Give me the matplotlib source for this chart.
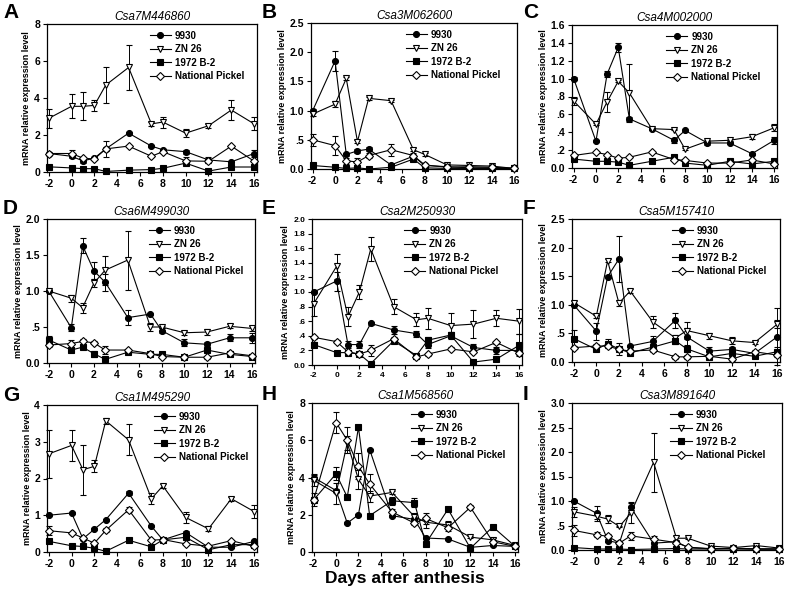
import matplotlib
matplotlib.use("Agg")
import matplotlib.pyplot as plt

plt.rcParams['font.family'] = ['Liberation Sans', 'DejaVu Sans']

days = [-2, 0, 1, 2, 3, 5, 7, 8, 10, 12, 14, 16]
series_names = ["9930", "ZN 26", "1972 B-2", "National Pickel"]
panel_letters = ["A", "B", "C", "D", "E", "F", "G", "H", "I"]
gene_names = ["Csa7M446860", "Csa3M062600", "Csa4M002000",
              "Csa6M499030", "Csa2M250930", "Csa5M157410",
              "Csa1M495290", "Csa1M568560", "Csa3M891640"]

# ---- Panel A ----
a_9930 = [1.0, 0.85, 0.6, 0.75, 1.25, 2.1, 1.4, 1.2, 1.1, 0.65, 0.55, 1.0]
a_zn26 = [2.9, 3.55, 3.55, 3.6, 4.7, 5.65, 2.6, 2.7, 2.1, 2.5, 3.35, 2.6]
a_1972 = [0.28, 0.22, 0.18, 0.18, 0.03, 0.1, 0.13, 0.2, 0.48, 0.05, 0.27, 0.27]
a_np = [1.0, 1.0, 0.75, 0.7, 1.25, 1.4, 0.85, 1.1, 0.6, 0.58, 1.4, 0.58]
a_9930_err = [0.1, 0.1, 0.1, 0.05, 0.1, 0.05, 0.05, 0.05, 0.1, 0.15, 0.05, 0.2]
a_zn26_err = [0.5, 0.65, 0.75, 0.3, 0.95, 1.2, 0.1, 0.3, 0.2, 0.1, 0.55, 0.35]
a_1972_err = [0.03] * 12
a_np_err = [0.05, 0.2, 0.05, 0.05, 0.45, 0.05, 0.05, 0.05, 0.2, 0.1, 0.05, 0.05]

# ---- Panel B ----
b_9930 = [1.0, 1.85, 0.25, 0.31, 0.34, 0.07, 0.22, 0.06, 0.04, 0.02, 0.02, 0.01]
b_zn26 = [0.94, 1.11, 1.55, 0.47, 1.21, 1.17, 0.33, 0.25, 0.07, 0.06, 0.05, 0.01]
b_1972 = [0.06, 0.03, 0.01, 0.02, 0.0, 0.03, 0.17, 0.02, 0.01, 0.01, 0.01, 0.01]
b_np = [0.5, 0.4, 0.14, 0.12, 0.23, 0.33, 0.23, 0.07, 0.03, 0.04, 0.03, 0.01]
b_9930_err = [0.03, 0.17, 0.03, 0.03, 0.03, 0.02, 0.02, 0.01, 0.01, 0.01, 0.01, 0.01]
b_zn26_err = [0.03, 0.05, 0.02, 0.03, 0.02, 0.02, 0.03, 0.02, 0.01, 0.01, 0.01, 0.01]
b_1972_err = [0.01] * 12
b_np_err = [0.1, 0.16, 0.05, 0.06, 0.05, 0.1, 0.05, 0.02, 0.01, 0.01, 0.01, 0.01]

# ---- Panel C ----
c_9930 = [1.0, 0.3, 1.05, 1.35, 0.55, 0.44, 0.31, 0.42, 0.28, 0.28, 0.16, 0.31]
c_zn26 = [0.75, 0.49, 0.74, 0.97, 0.84, 0.44, 0.43, 0.21, 0.3, 0.31, 0.35, 0.45]
c_1972 = [0.1, 0.075, 0.075, 0.065, 0.03, 0.075, 0.12, 0.055, 0.03, 0.075, 0.045, 0.075]
c_np = [0.14, 0.175, 0.15, 0.11, 0.12, 0.18, 0.095, 0.085, 0.055, 0.055, 0.09, 0.045]
c_9930_err = [0.02, 0.01, 0.03, 0.05, 0.02, 0.01, 0.03, 0.01, 0.02, 0.01, 0.01, 0.04]
c_zn26_err = [0.05, 0.01, 0.11, 0.01, 0.32, 0.01, 0.01, 0.01, 0.01, 0.01, 0.03, 0.04]
c_1972_err = [0.01] * 12
c_np_err = [0.01] * 12

# ---- Panel D ----
d_9930 = [1.0, 0.49, 1.63, 1.28, 1.12, 0.63, 0.68, 0.45, 0.28, 0.26, 0.35, 0.35]
d_zn26 = [1.0, 0.9, 0.77, 1.11, 1.29, 1.43, 0.5, 0.5, 0.42, 0.43, 0.51, 0.48]
d_1972 = [0.32, 0.18, 0.22, 0.13, 0.05, 0.15, 0.12, 0.12, 0.08, 0.18, 0.12, 0.09]
d_np = [0.25, 0.27, 0.3, 0.28, 0.18, 0.18, 0.13, 0.09, 0.08, 0.08, 0.14, 0.1]
d_9930_err = [0.02, 0.05, 0.1, 0.12, 0.12, 0.1, 0.02, 0.03, 0.05, 0.03, 0.05, 0.07]
d_zn26_err = [0.02, 0.05, 0.07, 0.05, 0.2, 0.41, 0.05, 0.02, 0.03, 0.04, 0.03, 0.03]
d_1972_err = [0.05, 0.03, 0.02, 0.04, 0.02, 0.02, 0.02, 0.02, 0.02, 0.02, 0.02, 0.02]
d_np_err = [0.03, 0.05, 0.04, 0.02, 0.05, 0.02, 0.02, 0.02, 0.02, 0.02, 0.02, 0.02]

# ---- Panel E ----
e_9930 = [1.0, 1.15, 0.28, 0.28, 0.57, 0.48, 0.43, 0.28, 0.4, 0.24, 0.2, 0.2]
e_zn26 = [0.84, 1.35, 0.66, 1.0, 1.59, 0.8, 0.62, 0.64, 0.54, 0.56, 0.64, 0.6]
e_1972 = [0.28, 0.17, 0.17, 0.15, 0.02, 0.33, 0.13, 0.34, 0.41, 0.04, 0.08, 0.27]
e_np = [0.38, 0.32, 0.18, 0.15, 0.2, 0.36, 0.11, 0.15, 0.22, 0.18, 0.31, 0.16]
e_9930_err = [0.02, 0.13, 0.05, 0.05, 0.02, 0.06, 0.04, 0.05, 0.05, 0.05, 0.05, 0.05]
e_zn26_err = [0.17, 0.17, 0.13, 0.1, 0.16, 0.1, 0.09, 0.14, 0.17, 0.19, 0.11, 0.17]
e_1972_err = [0.03, 0.02, 0.02, 0.02, 0.02, 0.03, 0.02, 0.04, 0.04, 0.03, 0.03, 0.15]
e_np_err = [0.02, 0.02, 0.02, 0.02, 0.07, 0.02, 0.03, 0.02, 0.02, 0.02, 0.02, 0.02]

# ---- Panel F ----
f_9930 = [1.0, 0.54, 1.49, 1.8, 0.28, 0.36, 0.73, 0.44, 0.19, 0.22, 0.15, 0.44]
f_zn26 = [1.04, 0.8, 1.77, 1.03, 1.24, 0.7, 0.42, 0.55, 0.46, 0.37, 0.34, 0.66]
f_1972 = [0.41, 0.22, 0.32, 0.23, 0.16, 0.26, 0.37, 0.23, 0.09, 0.15, 0.1, 0.18]
f_np = [0.25, 0.28, 0.28, 0.22, 0.19, 0.21, 0.09, 0.09, 0.1, 0.05, 0.18, 0.12]
f_9930_err = [0.02, 0.15, 0.03, 0.41, 0.02, 0.1, 0.13, 0.15, 0.08, 0.05, 0.03, 0.5]
f_zn26_err = [0.03, 0.03, 0.03, 0.05, 0.03, 0.1, 0.05, 0.15, 0.05, 0.06, 0.02, 0.07]
f_1972_err = [0.15, 0.03, 0.08, 0.1, 0.03, 0.05, 0.05, 0.05, 0.03, 0.03, 0.03, 0.08]
f_np_err = [0.03] * 12

# ---- Panel G ----
g_9930 = [1.0, 1.06, 0.36, 0.62, 0.88, 1.6, 0.7, 0.33, 0.53, 0.13, 0.13, 0.29]
g_zn26 = [2.67, 2.9, 2.24, 2.33, 3.57, 3.05, 1.45, 1.8, 0.94, 0.63, 1.45, 1.1]
g_1972 = [0.29, 0.17, 0.15, 0.1, 0.02, 0.32, 0.14, 0.33, 0.4, 0.06, 0.2, 0.2]
g_np = [0.58, 0.52, 0.38, 0.24, 0.59, 1.15, 0.32, 0.34, 0.22, 0.16, 0.31, 0.15]
g_9930_err = [0.03, 0.03, 0.02, 0.03, 0.03, 0.05, 0.03, 0.03, 0.04, 0.03, 0.03, 0.03]
g_zn26_err = [0.65, 0.42, 0.68, 0.16, 0.08, 0.42, 0.15, 0.05, 0.15, 0.07, 0.06, 0.17]
g_1972_err = [0.03] * 12
g_np_err = [0.12, 0.03, 0.03, 0.03, 0.05, 0.07, 0.03, 0.03, 0.03, 0.03, 0.03, 0.03]

# ---- Panel H ----
h_9930 = [4.0, 3.3, 1.55, 2.0, 5.5, 1.95, 1.75, 0.75, 0.7, 0.25, 0.35, 0.3]
h_zn26 = [3.85, 3.15, 5.85, 3.9, 3.0, 3.2, 1.9, 1.6, 1.45, 0.8, 0.65, 0.35]
h_1972 = [2.8, 4.2, 2.95, 6.7, 1.95, 2.75, 2.65, 0.45, 2.3, 0.2, 1.35, 0.3]
h_np = [2.8, 6.95, 6.0, 4.6, 3.65, 2.15, 1.55, 1.8, 1.3, 2.4, 0.55, 0.3]
h_9930_err = [0.2, 0.1, 0.05, 0.05, 0.05, 0.05, 0.05, 0.05, 0.05, 0.05, 0.05, 0.05]
h_zn26_err = [0.3, 0.55, 0.4, 0.5, 0.3, 0.1, 0.2, 0.3, 0.2, 0.05, 0.1, 0.05]
h_1972_err = [0.05, 0.35, 0.05, 0.1, 0.05, 0.2, 0.25, 0.05, 0.05, 0.05, 0.05, 0.05]
h_np_err = [0.35, 0.55, 0.7, 0.7, 0.55, 0.15, 0.1, 0.3, 0.15, 0.1, 0.1, 0.05]

# ---- Panel I ----
i_9930 = [1.0, 0.75, 0.19, 0.14, 0.87, 0.14, 0.17, 0.05, 0.03, 0.03, 0.02, 0.02]
i_zn26 = [0.78, 0.69, 0.63, 0.48, 0.75, 1.79, 0.24, 0.24, 0.08, 0.05, 0.09, 0.04]
i_1972 = [0.05, 0.02, 0.02, 0.02, 0.01, 0.02, 0.03, 0.02, 0.02, 0.02, 0.02, 0.02]
i_np = [0.4, 0.31, 0.28, 0.14, 0.29, 0.22, 0.15, 0.06, 0.02, 0.04, 0.02, 0.02]
i_9930_err = [0.02, 0.15, 0.03, 0.02, 0.1, 0.03, 0.03, 0.01, 0.01, 0.01, 0.01, 0.01]
i_zn26_err = [0.1, 0.05, 0.08, 0.02, 0.2, 0.6, 0.05, 0.02, 0.02, 0.01, 0.02, 0.01]
i_1972_err = [0.01] * 12
i_np_err = [0.12, 0.05, 0.05, 0.02, 0.08, 0.07, 0.02, 0.01, 0.01, 0.01, 0.01, 0.01]

# y-axis tick values per panel
a_yticks = [0, 2, 4, 6, 8]
b_yticks = [0.0, 0.5, 1.0, 1.5, 2.0, 2.5]
c_yticks = [0.0, 0.2, 0.4, 0.6, 0.8, 1.0, 1.2, 1.4, 1.6]
d_yticks = [0.0, 0.5, 1.0, 1.5, 2.0]
e_yticks = [0.0, 0.2, 0.4, 0.6, 0.8, 1.0, 1.2, 1.4, 1.6, 1.8, 2.0]
f_yticks = [0.0, 0.5, 1.0, 1.5, 2.0, 2.5]
g_yticks = [0, 1, 2, 3, 4]
h_yticks = [0, 2, 4, 6, 8]
i_yticks = [0.0, 0.5, 1.0, 1.5, 2.0, 2.5, 3.0]
x_ticks = [-2, 0, 2, 4, 6, 8, 10, 12, 14, 16]

panels = [
    (a_9930, a_zn26, a_1972, a_np, a_9930_err, a_zn26_err, a_1972_err, a_np_err, a_yticks, True),
    (b_9930, b_zn26, b_1972, b_np, b_9930_err, b_zn26_err, b_1972_err, b_np_err, b_yticks, False),
    (c_9930, c_zn26, c_1972, c_np, c_9930_err, c_zn26_err, c_1972_err, c_np_err, c_yticks, False),
    (d_9930, d_zn26, d_1972, d_np, d_9930_err, d_zn26_err, d_1972_err, d_np_err, d_yticks, False),
    (e_9930, e_zn26, e_1972, e_np, e_9930_err, e_zn26_err, e_1972_err, e_np_err, e_yticks, False),
    (f_9930, f_zn26, f_1972, f_np, f_9930_err, f_zn26_err, f_1972_err, f_np_err, f_yticks, False),
    (g_9930, g_zn26, g_1972, g_np, g_9930_err, g_zn26_err, g_1972_err, g_np_err, g_yticks, True),
    (h_9930, h_zn26, h_1972, h_np, h_9930_err, h_zn26_err, h_1972_err, h_np_err, h_yticks, True),
    (i_9930, i_zn26, i_1972, i_np, i_9930_err, i_zn26_err, i_1972_err, i_np_err, i_yticks, False),
]

# layout (pixels): left, top, right, bottom
boxes = [(47, 24, 257, 172), (311, 23, 517, 169), (572, 25, 777, 168),
         (47, 219, 255, 363), (312, 219, 522, 365), (572, 219, 780, 362),
         (47, 405, 257, 552), (312, 403, 518, 552), (572, 403, 782, 550)]
legend_x = [0.47, 0.44, 0.44, 0.47, 0.42, 0.46, 0.49, 0.46, 0.45]
letter_pos = [(3, 3), (262, 3), (523, 3), (3, 199), (262, 199), (523, 199),
              (3, 386), (262, 385), (523, 385)]

W, H = 786, 592
fig = plt.figure(figsize=(W / 100, H / 100), dpi=100)
fig.patch.set_facecolor("white")

styles = [
    dict(marker='o', markersize=4.3, markerfacecolor='black'),
    dict(marker='v', markersize=4.8, markerfacecolor='white'),
    dict(marker='s', markersize=4.0, markerfacecolor='black'),
    dict(marker='D', markersize=3.6, markerfacecolor='white'),
]


def fmt(v, integer):
    if integer:
        return "%d" % v
    if v == 0:
        return "0.0"
    if v < 1:
        return ("%.1f" % v)[1:]
    return "%.1f" % v


for k, (p, box) in enumerate(zip(panels, boxes)):
    l, t, r, b = box
    ax = fig.add_axes([l / W, 1 - b / H, (r - l) / W, (b - t) / H])
    vals = p[0:4]
    errs = p[4:8]
    yt = p[8]
    integer = p[9]
    for name, v, e, st in zip(series_names, vals, errs, styles):
        ax.errorbar(days, v, yerr=e, color='black', linewidth=0.8,
                    markeredgecolor='black', markeredgewidth=0.8,
                    elinewidth=0.7, capsize=2.5, capthick=0.7,
                    label=name, clip_on=False, zorder=3, **st)
    ax.set_xlim(-2.15, 16.25)
    ax.set_ylim(yt[0], yt[-1])
    ax.set_xticks(x_ticks)
    ax.set_yticks(yt)
    fs = 6 if k == 4 else 7.5
    ax.set_xticklabels([str(x) for x in x_ticks], fontsize=fs, fontweight='bold')
    ax.set_yticklabels([fmt(v, integer) for v in yt], fontsize=fs, fontweight='bold')
    ax.tick_params(direction='out', length=3, width=0.8, pad=2)
    for s in ax.spines.values():
        s.set_linewidth(0.9)
    ax.set_ylabel("mRNA relative expression level", fontsize=6.5,
                  fontweight='bold', labelpad=2)
    ax.set_title(gene_names[k], fontsize=8.5, style='italic', pad=3)
    handles, labels = ax.get_legend_handles_labels()
    handles = [h[0] for h in handles]
    ax.legend(handles, labels, loc='upper left', bbox_to_anchor=(legend_x[k], 0.98),
              frameon=False, handlelength=2.2, handletextpad=0.4, labelspacing=0.35,
              borderaxespad=0, prop={'weight': 'bold', 'size': 7}, numpoints=1)
    lx, ly = letter_pos[k]
    fig.text(lx / W, 1 - ly / H, panel_letters[k], fontsize=15, fontweight='bold',
             ha='left', va='top')

fig.text(405 / W, 1 - 579 / H, "Days after anthesis", fontsize=12.5,
         fontweight='bold', ha='center', va='center')

fig.savefig("out.png", dpi=100, facecolor="white")
